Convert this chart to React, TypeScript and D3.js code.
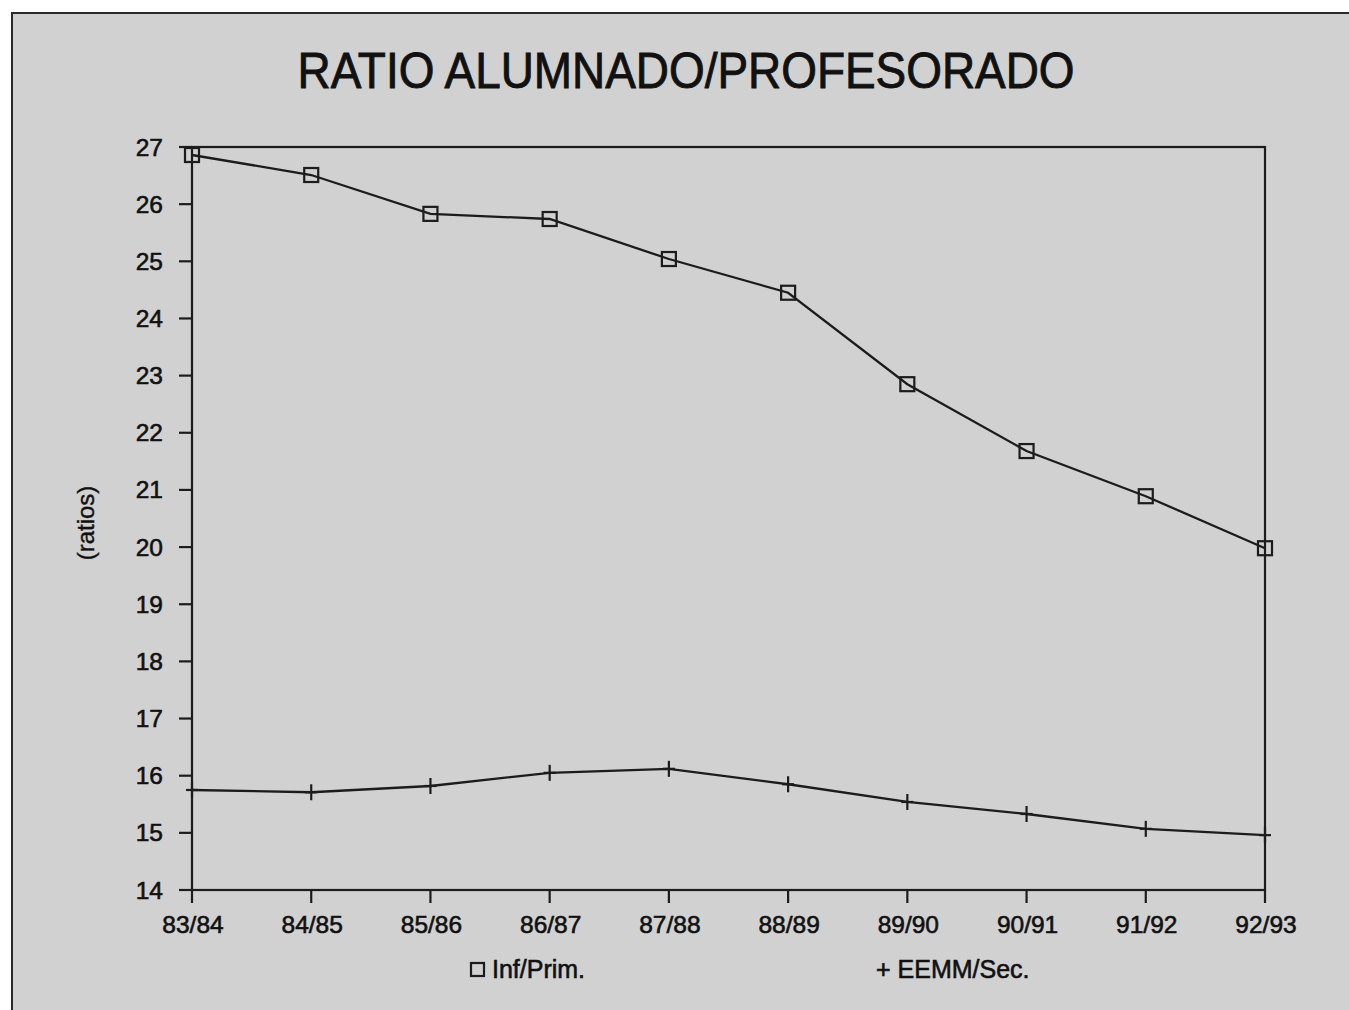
import React from "react";
import * as d3 from "d3";

const categories = ["83/84", "84/85", "85/86", "86/87", "87/88", "88/89", "89/90", "90/91", "91/92", "92/93"];
const infPrim = [26.86, 26.51, 25.83, 25.74, 25.04, 24.45, 22.85, 21.68, 20.89, 19.98];
const eemmSec = [15.75, 15.71, 15.82, 16.05, 16.12, 15.85, 15.54, 15.33, 15.07, 14.96];
const yTicks = [14, 15, 16, 17, 18, 19, 20, 21, 22, 23, 24, 25, 26, 27];

const W = 1349;
const H = 1010;
const left = 192;
const right = 1265;
const top = 147;
const bottom = 890;
const ink = "#1c1c1c";
const font = "'Liberation Sans', Arial, Helvetica, sans-serif";
const textProps = { fill: "#111", stroke: "#111", strokeWidth: 0.6 };

export default function App() {
  const x = d3.scalePoint<string>().domain(categories).range([left, right]);
  const y = d3.scaleLinear().domain([14, 27]).range([bottom, top]);
  const line = d3
    .line<number>()
    .x((_, i) => x(categories[i]) as number)
    .y((d) => y(d));

  return (
    <svg
      width={W}
      height={H}
      style={{ position: "absolute", left: 0, top: 0, background: "#fff" }}
      fontFamily={font}
    >
      <rect x={12} y={13} width={W} height={H} fill="#d1d1d1" stroke="#2a2a2a" strokeWidth={2} />
      <text
        x={686}
        y={88}
        textAnchor="middle"
        fontSize={50}
        textLength={777}
        lengthAdjust="spacingAndGlyphs"
        {...textProps}
        strokeWidth={0.9}
      >
        RATIO ALUMNADO/PROFESORADO
      </text>

      {/* plot frame */}
      <rect x={left} y={top} width={right - left} height={bottom - top} fill="none" stroke={ink} strokeWidth={2.2} />

      {/* y ticks */}
      {yTicks.map((t) => (
        <g key={t}>
          <line x1={left - 13} x2={left} y1={y(t)} y2={y(t)} stroke={ink} strokeWidth={2.2} />
          <text x={left - 29} y={y(t) + 8.5} textAnchor="end" fontSize={24.5} {...textProps}>
            {t}
          </text>
        </g>
      ))}

      {/* x ticks */}
      {categories.map((c) => (
        <g key={c}>
          <line x1={x(c)} x2={x(c)} y1={bottom} y2={bottom + 13} stroke={ink} strokeWidth={2.2} />
          <text x={x(c) + 1} y={933} textAnchor="middle" fontSize={24.5} {...textProps}>
            {c}
          </text>
        </g>
      ))}

      <text
        transform={`translate(94,523) rotate(-90)`}
        textAnchor="middle"
        fontSize={24}
        {...textProps}
        strokeWidth={0.4}
      >
        (ratios)
      </text>

      {/* series */}
      <path d={line(infPrim) as string} fill="none" stroke={ink} strokeWidth={2.3} />
      <path d={line(eemmSec) as string} fill="none" stroke={ink} strokeWidth={2.3} />

      {infPrim.map((v, i) => (
        <rect
          key={"s" + i}
          x={(x(categories[i]) as number) - 7}
          y={y(v) - 7}
          width={14}
          height={14}
          fill="none"
          stroke={ink}
          strokeWidth={2.2}
        />
      ))}
      {eemmSec.map((v, i) => {
        const cx = x(categories[i]) as number;
        const cy = y(v);
        return (
          <g key={"p" + i}>
            <line x1={cx} x2={cx} y1={cy - 8} y2={cy + 8} stroke={ink} strokeWidth={2.2} />
            <line x1={cx - 6} x2={cx + 6} y1={cy} y2={cy} stroke={ink} strokeWidth={2.2} />
          </g>
        );
      })}

      {/* legend */}
      <rect x={471} y={963} width={13} height={13} fill="none" stroke={ink} strokeWidth={2.2} />
      <text x={492} y={978} fontSize={25} {...textProps}>
        Inf/Prim.
      </text>
      <text x={876} y={978} fontSize={25} {...textProps}>
        + EEMM/Sec.
      </text>
    </svg>
  );
}
